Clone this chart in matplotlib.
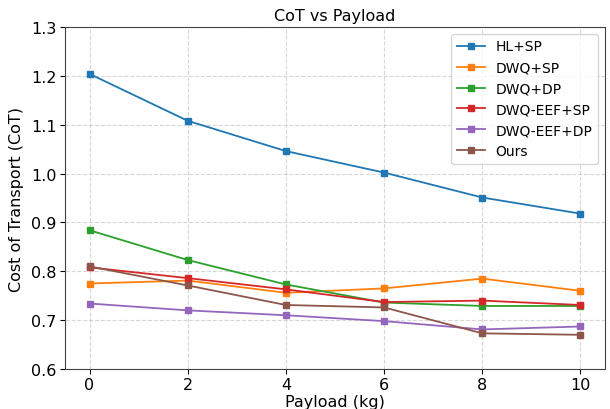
import numpy as np
import matplotlib
matplotlib.use('Agg')
import matplotlib.pyplot as plt

payload = [0, 2, 4, 6, 8, 10]

hl_sp = [1.204, 1.108, 1.046, 1.002, 0.951, 0.918]
dwq_sp = [0.775, 0.781, 0.756, 0.765, 0.785, 0.760]
dwq_dp = [0.884, 0.823, 0.773, 0.736, 0.729, 0.729]
dwq_eef_sp = [0.808, 0.786, 0.763, 0.737, 0.740, 0.731]
dwq_eef_dp = [0.734, 0.720, 0.710, 0.698, 0.681, 0.687]
ours = [0.810, 0.771, 0.731, 0.726, 0.673, 0.670]

series = [
    ('HL+SP', hl_sp),
    ('DWQ+SP', dwq_sp),
    ('DWQ+DP', dwq_dp),
    ('DWQ-EEF+SP', dwq_eef_sp),
    ('DWQ-EEF+DP', dwq_eef_dp),
    ('Ours', ours),
]

fig, ax = plt.subplots(figsize=(6.1, 4.1), dpi=100)
fig.subplots_adjust(left=65/610, right=605/610, bottom=40/410, top=382/410)
for name, vals in series:
    ax.plot(payload, vals, marker='s', markersize=5, linewidth=1.3, label=name)

ax.set_title('CoT vs Payload', fontsize=11.5, pad=5)
ax.set_xlabel('Payload (kg)', fontsize=11.5, labelpad=1)
ax.set_ylabel('Cost of Transport (CoT)', fontsize=11.5, labelpad=5)
ax.set_ylim(0.6, 1.3)
ax.set_xticks(payload)
ax.tick_params(labelsize=11.5, pad=2.5)
ax.grid(True, linestyle='--', alpha=0.5)
for sp in ax.spines.values():
    sp.set_color('#444444')
ax.legend(loc='upper right', fontsize=10)

plt.savefig('out.png')
